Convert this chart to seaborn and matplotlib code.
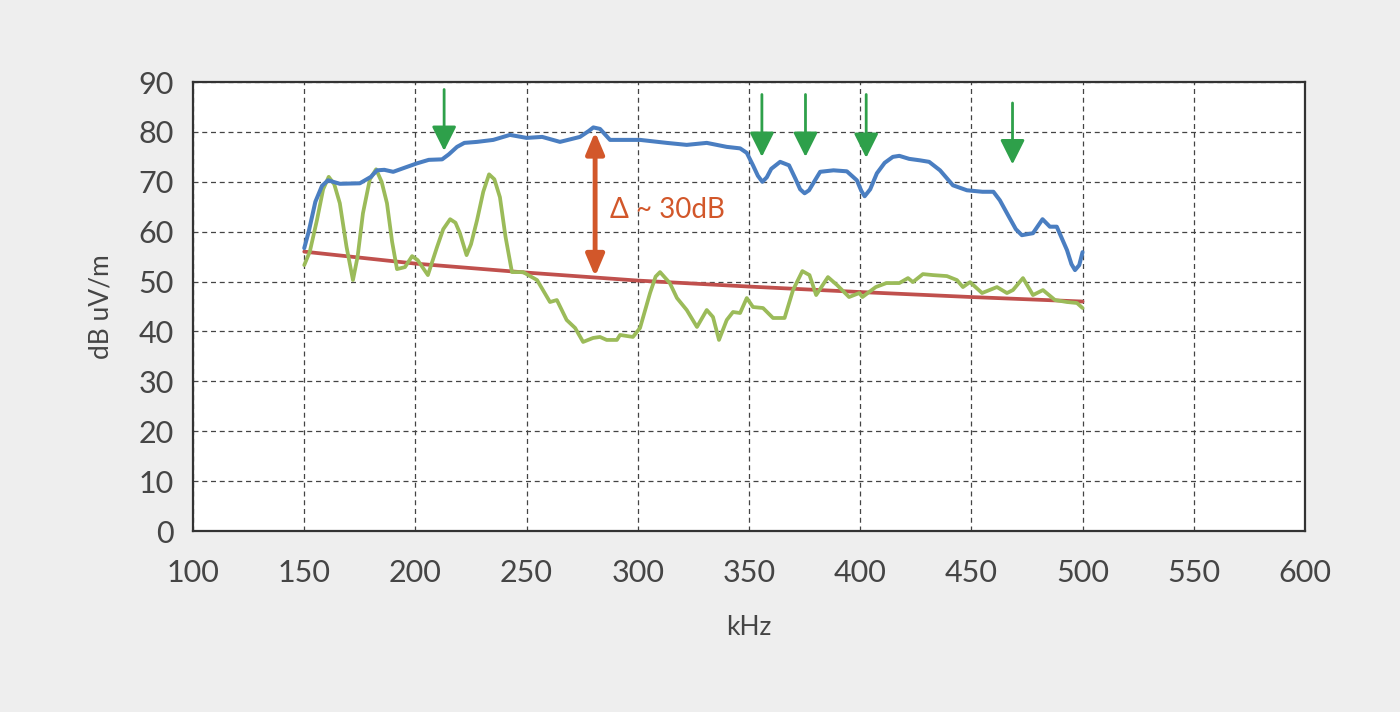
import pandas as pd
import seaborn as sns
import matplotlib.pyplot as plt

# measured emission (blue), filtered (green), limit (red)
blue_khz = [150, 152, 155, 158, 160.7, 166, 175, 180, 182.7, 186, 190, 195, 200.7, 206, 212, 215, 218.7, 222,
            227.7, 235, 242.5, 250, 257, 265, 274, 278, 280, 283, 287.5, 301, 313, 322, 331, 340, 346, 349,
            351.8, 354, 356, 358, 360, 364, 368, 371, 373, 375, 377, 379, 382, 388, 394, 398.5, 400.5, 402,
            404.5, 407.5, 411, 414.7, 417.6, 422, 426.9, 431, 435.9, 441.7, 448, 455, 459.9, 462.8, 466.5,
            470, 472.7, 477.7, 482, 485.3, 488.4, 493, 495, 496.6, 498.5, 500]
blue_db = [56.7, 60, 66, 69.2, 70.3, 69.6, 69.7, 71, 72.3, 72.4, 72, 72.8, 73.7, 74.4, 74.5, 75.5, 77, 77.8,
           78, 78.4, 79.4, 78.8, 79, 78, 79, 80.2, 80.9, 80.6, 78.4, 78.4, 77.8, 77.4, 77.8, 77, 76.7, 75.8,
           73.3, 71.2, 70, 70.9, 72.6, 74, 73.3, 70.5, 68.5, 67.7, 68.3, 69.8, 72, 72.3, 72.1, 70.3, 68.2,
           67.1, 68.5, 71.7, 73.8, 75, 75.2, 74.6, 74.3, 74, 72.3, 69.3, 68.3, 68, 68, 66.3, 63.3, 60.5,
           59.3, 59.7, 62.5, 61, 61, 56.3, 53.5, 52.3, 53.3, 55.9]

green_khz = [150, 152.5, 155.7, 158.5, 161, 163.5, 166, 169, 171.9, 174, 176.4, 179.5, 182.3, 184.8, 187.2,
             189.5, 191.7, 195.3, 198.5, 201, 205.6, 209.7, 212.5, 215.6, 218, 220, 223, 225, 227.7, 230.5,
             233.1, 235.5, 238, 240.5, 243.4, 248.4, 254.7, 260.5, 263.6, 268, 271.8, 275.4, 279.9, 283,
             286, 290.6, 292, 297.8, 301, 305.5, 308, 310, 314.4, 317.6, 322, 326.6, 331, 333.8, 336.5,
             340, 342.8, 346, 349, 351.8, 356.3, 360.8, 366, 369.8, 374, 377.2, 380.2, 385.5, 389.6,
             395, 399.6, 401, 407, 411.8, 417.6, 421.5, 423.7, 428.2, 432.7, 439, 443.5, 446.2, 449.4,
             454.8, 461.5, 466, 468.7, 473.2, 477.7, 482.2, 487.6, 493, 497.5, 500]
green_db = [53.3, 56, 62.3, 68.5, 71, 69.5, 65.7, 57, 50.3, 55, 63.7, 70.5, 72.5, 70, 65.7, 58, 52.5,
            52.9, 55.1, 54.3, 51.3, 56.9, 60.5, 62.5, 61.8, 59.7, 55.3, 57.5, 62.3, 68, 71.5, 70.5, 66.9,
            59, 51.9, 51.9, 50.3, 45.9, 46.3, 42.3, 40.7, 37.9, 38.7, 38.9, 38.3, 38.3, 39.3, 38.9, 40.7,
            47.7, 51, 51.9, 49.7, 46.7, 44.3, 40.9, 44.3, 42.9, 38.3, 42.3, 43.9, 43.7, 46.7, 44.9, 44.7,
            42.7, 42.7, 48.3, 52.1, 51.3, 47.3, 50.9, 49.3, 46.9, 47.7, 46.9, 48.9, 49.7, 49.7, 50.7,
            49.9, 51.5, 51.3, 51.1, 50.3, 48.9, 49.9, 47.7, 48.9, 47.7, 48.3, 50.7, 47.3, 48.3, 46.3,
            45.9, 45.7, 44.7]

limit_khz = [150, 200, 250, 300, 350, 400, 450, 500]
limit_db = [56.0, 53.6, 51.8, 50.2, 49.0, 47.9, 46.9, 46.0]

# green markers over the dips
dip_khz = [212.9, 355.8, 375.4, 402.7, 468.5]
dip_top = [88.5, 87.5, 87.5, 87.5, 85.8]
dip_tip = [76.2, 75.0, 75.0, 74.8, 73.5]

delta_khz = 280.8
delta_top = 80.0
delta_bottom = 51.0
delta_label = "Δ ~ 30dB"

sns.set_style("white")
plt.rcParams['font.family'] = ['Lato', 'DejaVu Sans']

bg = '#eeeeee'
txt = '#454545'
fig = plt.figure(figsize=(14, 7.12), dpi=100, facecolor=bg)
ax = fig.add_axes([0.1379, 0.2542, 0.7942, 0.6306])
ax.set_facecolor('white')

sns.lineplot(x=limit_khz, y=limit_db, ax=ax, color='#c0504d', linewidth=2.7, sort=False, zorder=3)
sns.lineplot(x=green_khz, y=green_db, ax=ax, color='#9bbb59', linewidth=2.7, sort=False, zorder=4)
sns.lineplot(x=blue_khz, y=blue_db, ax=ax, color='#4a7ec1', linewidth=2.9, sort=False, zorder=5)

for x, t, b in zip(dip_khz, dip_top, dip_tip):
    ax.annotate('', xy=(x, b), xytext=(x, t),
                arrowprops=dict(arrowstyle='-|>,head_width=0.75,head_length=1.5',
                                color='#2ea04a', lw=2, shrinkA=0, shrinkB=0), zorder=6)

ax.annotate('', xy=(delta_khz, delta_bottom), xytext=(delta_khz, delta_top),
            arrowprops=dict(arrowstyle='<|-|>,head_width=0.55,head_length=1.3',
                            color='#d2572a', lw=3.5, shrinkA=0, shrinkB=0), zorder=6)
ax.text(delta_khz + 6.5, 64.3, delta_label, color='#d2572a', fontsize=20,
        va='center', ha='left', zorder=6)

ax.set_xlim(100, 600)
ax.set_ylim(0, 90)
ax.set_xticks(range(100, 601, 50))
ax.set_yticks(range(0, 91, 10))
ax.grid(True, color='#444444', linestyle=(0, (4, 3)), linewidth=0.9)
ax.tick_params(axis='both', length=0, labelsize=22, labelcolor=txt)
ax.tick_params(axis='x', pad=20)
ax.tick_params(axis='y', pad=14)
for s in ax.spines.values():
    s.set_color('#333333')
    s.set_linewidth(1.6)

ax.set_xlabel('kHz', fontsize=19, color=txt, labelpad=20)
ax.set_ylabel('dB uV/m', fontsize=19, color=txt, labelpad=18)

fig.savefig('out.png', dpi=100, facecolor=bg)
